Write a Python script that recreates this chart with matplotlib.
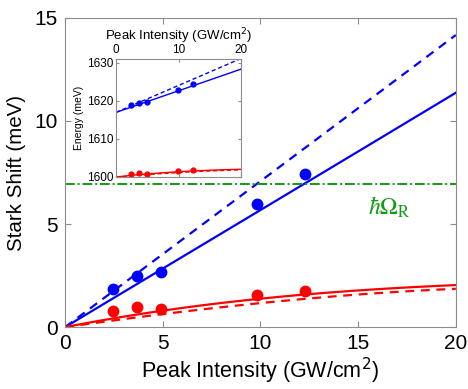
import numpy as np
import matplotlib
matplotlib.use('Agg')
import matplotlib.pyplot as plt

plt.rcParams['font.family'] = ['Liberation Sans', 'DejaVu Sans']

# measured points (GW/cm^2, meV)
intensity = [2.45, 3.7, 4.93, 9.84, 12.3]
blue_shift = [1.83, 2.49, 2.67, 5.96, 7.43]
red_shift = [0.78, 0.96, 0.86, 1.55, 1.73]

# model curves
curve_x = [0, 5, 10, 15, 20]
blue_solid = [0, 2.84, 5.68, 8.52, 11.37]
blue_dashed = [0, 3.54, 7.08, 10.62, 14.17]
red_solid = [0, 0.80, 1.38, 1.78, 2.04]
red_dashed = [0, 0.63, 1.17, 1.58, 1.86]

rabi = 6.93
blue_base = 1617.0
red_base = 1600.0

fine_x = np.linspace(0, 20, 81)
def smooth(y):
    # cubic through the read-off samples
    return np.polyval(np.polyfit(curve_x, y, 3), fine_x)

BLUE = '#0000ff'
RED = '#ff0000'
GREEN = '#119a11'
GREY = '#8c8c8c'

fig = plt.figure(figsize=(4.68, 3.89), dpi=100)
ax = fig.add_axes([0.139, 0.159, 0.835, 0.795])

ax.plot(fine_x, smooth(blue_solid), color=BLUE, lw=1.6)
ax.plot(fine_x, smooth(blue_dashed), color=BLUE, lw=1.6, ls=(0, (4, 3)))
ax.plot(fine_x, smooth(red_solid), color=RED, lw=1.6)
ax.plot(fine_x, smooth(red_dashed), color=RED, lw=1.6, ls=(0, (4, 3)))
ax.plot(intensity, blue_shift, 'o', color=BLUE, ms=7.5)
ax.plot(intensity, red_shift, 'o', color=RED, ms=7.5)
ax.axhline(rabi, color=GREEN, lw=1.4, ls=(0, (5, 1.5, 1, 1.5)))
ax.text(16.6, 5.8, r'$\hbar\Omega_\mathrm{R}$', color=GREEN, fontsize=17,
        ha='center', va='center', math_fontfamily='stix')

ax.set_xlim(0, 20)
ax.set_ylim(0, 15)
ax.set_xticks([0, 5, 10, 15, 20])
ax.set_yticks([0, 5, 10, 15])
ax.set_xlabel('Peak Intensity (GW/cm$^2$)', fontsize=15.5, labelpad=2)
ax.set_ylabel('Stark Shift (meV)', fontsize=14.8, labelpad=6)
ax.tick_params(direction='in', top=True, right=True, labelsize=15,
               length=4, color=GREY, pad=5)
for s in ax.spines.values():
    s.set_color(GREY)

# inset with absolute energies
ins = fig.add_axes([0.248, 0.545, 0.267, 0.303])
ins.plot(fine_x, blue_base + smooth(blue_solid), color=BLUE, lw=1.0)
ins.plot(fine_x, blue_base + smooth(blue_dashed), color=BLUE, lw=1.0, ls=(0, (3, 2)))
ins.plot(fine_x, red_base + smooth(red_solid), color=RED, lw=1.0)
ins.plot(fine_x, red_base + smooth(red_dashed), color=RED, lw=1.0, ls=(0, (3, 2)))
ins.plot(intensity, blue_base + np.array(blue_shift), 'o', color=BLUE, ms=3.5)
ins.plot(intensity, red_base + np.array(red_shift), 'o', color=RED, ms=3.5)
ins.set_xlim(0, 20)
ins.set_ylim(1600, 1631)
ins.set_xticks([0, 10, 20])
ins.set_yticks([1600, 1610, 1620, 1630])
ins.xaxis.set_ticks_position('top')
ins.xaxis.set_label_position('top')
ins.set_xlabel('Peak Intensity (GW/cm$^2$)', fontsize=9.5, labelpad=3)
ins.set_ylabel('Energy (meV)', fontsize=7.5, labelpad=2)
ins.tick_params(direction='in', bottom=True, right=True, labelsize=8.5,
                length=2.5, color=GREY, pad=2)
for s in ins.spines.values():
    s.set_color(GREY)

fig.savefig('out.png', dpi=100)
